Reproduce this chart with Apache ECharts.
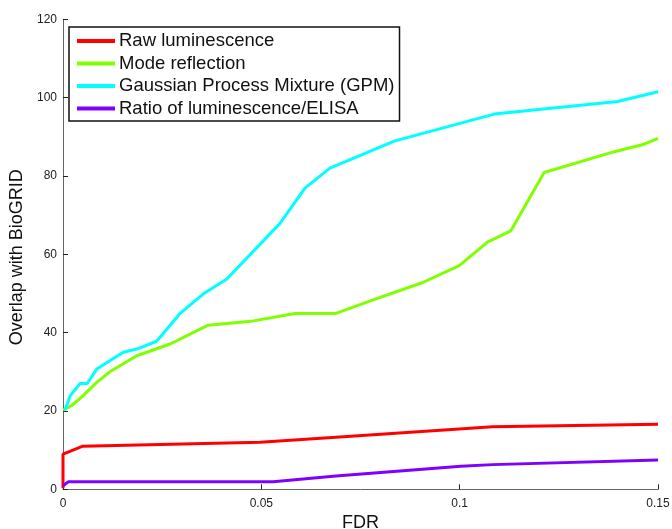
<!DOCTYPE html>
<html>
<head>
<meta charset="utf-8">
<script src="https://cdn.jsdelivr.net/npm/echarts@6/dist/echarts.min.js"></script>
<style>html,body{margin:0;padding:0;background:#fff;}#c{width:672px;height:529px;}</style>
</head>
<body>
<div id="c"></div>
<script>
var seriesNames = ['Raw luminescence', 'Mode reflection', 'Gaussian Process Mixture (GPM)', 'Ratio of luminescence/ELISA'];
var seriesColors = ['#ff0000', '#80ff00', '#00ffff', '#8000ff'];

var rawX = [0, 0, 0.005, 0.0497, 0.0688, 0.1083, 0.15];
var rawY = [0.3, 9, 11, 12, 13.3, 16, 16.6];

var modeX = [0, 0.0022, 0.0051, 0.0085, 0.0118, 0.0186, 0.027, 0.0366, 0.048, 0.0585, 0.0688, 0.0789, 0.0907, 0.0999, 0.107, 0.1129, 0.1213, 0.139, 0.1465, 0.15];
var modeY = [20.2, 21.4, 23.9, 27.3, 30, 34.1, 37.1, 41.9, 43, 44.9, 44.9, 48.6, 52.8, 57.1, 63.1, 66, 80.9, 86.2, 88.1, 89.6];

var gpmX = [0.0005, 0.0018, 0.0043, 0.0061, 0.0085, 0.0118, 0.0152, 0.0186, 0.0236, 0.0295, 0.0354, 0.0413, 0.0547, 0.061, 0.0673, 0.0835, 0.1087, 0.1398, 0.15];
var gpmY = [20.2, 23.9, 27, 27, 30.7, 32.8, 35, 35.8, 37.8, 44.9, 49.9, 53.7, 67.9, 76.9, 82, 88.9, 95.8, 99, 101.5];

var ratioX = [0, 0.0013, 0.053, 0.0688, 0.1003, 0.1083, 0.15];
var ratioY = [0.9, 1.9, 1.9, 3.4, 5.9, 6.3, 7.5];

var xTicks = [0, 0.05, 0.1, 0.15];
var yTicks = [0, 20, 40, 60, 80, 100, 120];

function zip(xs, ys) { return xs.map(function (x, i) { return [x, ys[i]]; }); }
var allData = [zip(rawX, rawY), zip(modeX, modeY), zip(gpmX, gpmY), zip(ratioX, ratioY)];

var chart = echarts.init(document.getElementById('c'), null, {renderer: 'canvas'});
var font = '"Liberation Sans", Arial, sans-serif';
chart.setOption({
  animation: false,
  backgroundColor: '#fff',
  textStyle: {fontFamily: font},
  grid: {left: 63, right: 14, top: 19.3, bottom: 39.7, containLabel: false, outerBoundsMode: 'none'},
  legend: {
    left: 69, top: 27,
    orient: 'vertical',
    data: seriesNames,
    icon: 'rect',
    itemWidth: 38, itemHeight: 4,
    itemGap: 3.5,
    padding: [4.5, 5, 3, 8],
    borderColor: '#111', borderWidth: 1.5,
    backgroundColor: '#fff',
    textStyle: {fontSize: 18.5, color: '#111', fontFamily: font, padding: [0, 0, 0, -1]}
  },
  xAxis: {
    type: 'value', min: xTicks[0], max: xTicks[xTicks.length - 1], interval: 0.05,
    name: 'FDR', nameLocation: 'middle', nameGap: 19,
    nameTextStyle: {fontSize: 18, color: '#111', fontFamily: font},
    axisLine: {show: true, lineStyle: {color: '#666', width: 1}},
    axisTick: {show: true, inside: true, length: 5, lineStyle: {color: '#222'}},
    axisLabel: {fontSize: 12, color: '#222', margin: 8, fontFamily: font,
      formatter: function (v) { return String(+v.toFixed(2)); }},
    splitLine: {show: false}
  },
  yAxis: {
    type: 'value', min: yTicks[0], max: yTicks[yTicks.length - 1], interval: 20,
    name: 'Overlap with BioGRID', nameLocation: 'middle', nameGap: 29,
    nameTextStyle: {fontSize: 18, color: '#111', fontFamily: font, padding: [0, 6, 0, 0]},
    axisLine: {show: true, lineStyle: {color: '#666', width: 1}},
    axisTick: {show: true, inside: true, length: 5, lineStyle: {color: '#222'}},
    axisLabel: {fontSize: 12, color: '#222', margin: 6, fontFamily: font},
    splitLine: {show: false}
  },
  series: seriesNames.map(function (n, i) {
    return {
      name: n, type: 'line', data: allData[i],
      showSymbol: false, symbol: 'none',
      color: seriesColors[i],
      lineStyle: {width: 3, color: seriesColors[i]},
      clip: false
    };
  })
});
</script>
</body>
</html>
